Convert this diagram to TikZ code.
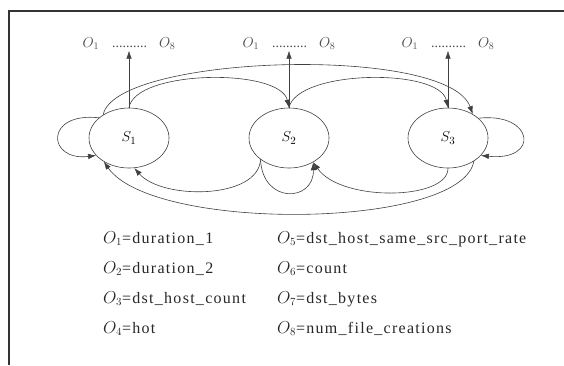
\documentclass[tikz,border=0pt]{standalone}
\usepackage{fontspec}
\setmainfont{Liberation Serif}
\newfontfamily\legendfont[LetterSpace=8]{Liberation Serif}
\usetikzlibrary{arrows.meta, positioning, shapes.geometric}

\begin{document}
\begin{tikzpicture}[
    x=1pt, y=-1pt,
    >={Latex[length=8pt, width=5.5pt]},
    state/.style ={draw=black!75, line width=0.6pt, ellipse,
                   minimum width=80pt, minimum height=60pt, inner sep=0pt,
                   font=\fontsize{15}{17}\selectfont},
    obs/.style   ={inner sep=1pt, text=black!70,
                   font=\fontsize{14}{16}\selectfont},
    legend/.style={inner sep=0pt, anchor=base west, text=black!85,
                   font=\legendfont\fontsize{16}{18}\selectfont},
    flow/.style  ={->, line width=0.6pt, black!75},
]
\useasboundingbox (0,0) rectangle (564,365);
% frame
\draw[line width=1.2pt, black!80] (564,11) -- (9,11) -- (9,365);

\node[state] (s1) at (129,138) {$S_1$};
\node[state] (s2) at (289,138) {$S_2$};
\node[state] (s3) at (448,138) {$S_3$};

\node[obs, above=57pt of s1] (o1) {$O_1$\hspace{13pt}..........\hspace{12pt}$O_8$};
\node[obs, above=57pt of s2] (o2) {$O_1$\hspace{13pt}..........\hspace{12pt}$O_8$};
\node[obs, above=57pt of s3] (o3) {$O_1$\hspace{13pt}..........\hspace{12pt}$O_8$};
\draw[flow] (s1.north) -- (o1.south);
\draw[flow] (s2.north) -- (o2.south);
\draw[flow] (s3.north) -- (o3.south);

% transitions over the top
\draw[flow] (s1.138) .. controls +(12,-60) and +(-25,-70) .. (s3.44);
\draw[flow] (s1.north) .. controls +(6,-38) and +(-9,-40) .. (s2.north);
\draw[flow] (s2.north) .. controls +(8,-38) and +(-9,-40) .. (s3.north);
% self loops
\draw[flow] (s1.146) .. controls +(-55,-6) and +(-49,6) .. (s1.208);
\draw[flow] (s3.33) .. controls +(56,-6) and +(59,6) .. (s3.-28);
\draw[flow] (s2.217) .. controls +(2,45) and +(1,40) .. (s2.-45);
% transitions underneath
\draw[flow] (s2.217) .. controls +(-2,40) and +(28,32) .. (s1.-80);
\draw[flow] (s3.south) .. controls +(0,32) and +(28,40) .. (s2.-45);
\draw[flow] (s3.-42) .. controls +(-12,68) and +(50,71) .. (s1.223);

% legend
\node[legend] (l1) at (103,243) {$O_1$=duration\_1};
\node[legend, below=30pt of l1.base west, anchor=base west] (l2) {$O_2$=duration\_2};
\node[legend, below=30pt of l2.base west, anchor=base west] (l3) {$O_3$=dst\_host\_count};
\node[legend, below=30pt of l3.base west, anchor=base west] (l4) {$O_4$=hot};
\node[legend] (l5) at (277,243) {$O_5$=dst\_host\_same\_src\_port\_rate};
\node[legend, below=30pt of l5.base west, anchor=base west] (l6) {$O_6$=count};
\node[legend, below=30pt of l6.base west, anchor=base west] (l7) {$O_7$=dst\_bytes};
\node[legend, below=30pt of l7.base west, anchor=base west] (l8) {$O_8$=num\_file\_creations};
\end{tikzpicture}
\end{document}
